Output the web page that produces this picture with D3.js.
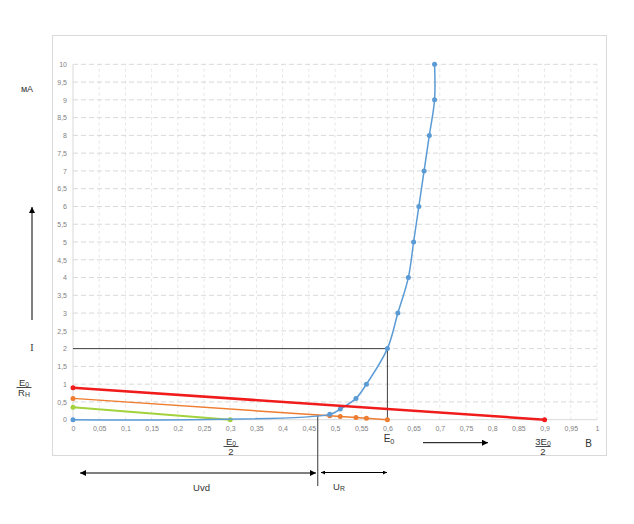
<!DOCTYPE html>
<html><head><meta charset="utf-8">
<script src="https://cdn.jsdelivr.net/npm/d3@7"></script>
<style>body{margin:0;background:#fff}svg{display:block}</style>
</head><body>
<svg id="c" width="634" height="524"></svg>
<script>
// Data
const xTicks = d3.range(0, 1.0001, 0.05).map(v => +v.toFixed(2));
const yTicks = d3.range(0, 10.0001, 0.5).map(v => +v.toFixed(1));
const diodeX = [0, 0.49, 0.51, 0.54, 0.56, 0.6, 0.62, 0.64, 0.65, 0.66, 0.67, 0.68, 0.69, 0.69];
const diodeY = [0, 0.15, 0.3, 0.6, 1, 2, 3, 4, 5, 6, 7, 8, 9, 10];
const loadOrangeX = [0, 0.49, 0.51, 0.54, 0.56, 0.6];
const loadOrangeY = [0.6, 0.11, 0.09, 0.06, 0.04, 0];
const loadRedX = [0, 0.9];
const loadRedY = [0.9, 0];
const loadGreenX = [0, 0.3];
const loadGreenY = [0.35, 0];
const opPoint = [0.6, 2];
const intersectX = 0.467, intersectY = 0.14;

const svg = d3.select("#c");
const x = d3.scaleLinear().domain([0, 1]).range([73, 597]);
const y = d3.scaleLinear().domain([0, 10]).range([419.7, 64.3]);
const fmt = v => String(v).replace('.', ',');

// chart frame
svg.append("rect").attr("x", 52.5).attr("y", 35.5).attr("width", 554).attr("height", 420)
  .attr("fill", "#fff").attr("stroke", "#d9d9d9");

// gridlines
svg.append("g").selectAll("line").data(xTicks).join("line")
  .attr("x1", d => x(d)).attr("x2", d => x(d)).attr("y1", y(0)).attr("y2", y(10))
  .attr("stroke", d => d === 0 ? "#d9d9d9" : "#e6e6e6")
  .attr("stroke-dasharray", d => d === 0 ? null : "3,3");
svg.append("g").selectAll("line").data(yTicks).join("line")
  .attr("x1", x(0)).attr("x2", x(1)).attr("y1", d => y(d)).attr("y2", d => y(d))
  .attr("stroke", "#d9d9d9")
  .attr("stroke-dasharray", d => d === 0 ? null : "5,3");

// axes tick labels
const xAxis = d3.axisBottom(x).tickValues(xTicks).tickFormat(fmt).tickSize(0).tickPadding(6);
const gx = svg.append("g").attr("transform", `translate(0,${y(0)})`).call(xAxis);
const yAxis = d3.axisLeft(y).tickValues(yTicks).tickFormat(fmt).tickSize(0).tickPadding(6);
const gy = svg.append("g").attr("transform", `translate(${x(0)},0)`).call(yAxis);
[gx, gy].forEach(g => {
  g.select(".domain").remove();
  g.selectAll("text").attr("fill", "#7f7f7f").attr("font-size", "7px")
    .attr("font-family", "Liberation Sans, Arial, sans-serif");
});

// guide lines
const guide = svg.append("g").attr("stroke", "#404040").attr("stroke-width", 1).attr("fill", "none");
guide.append("line").attr("x1", x(0)).attr("x2", x(opPoint[0])).attr("y1", y(opPoint[1])).attr("y2", y(opPoint[1]));
guide.append("line").attr("x1", x(opPoint[0])).attr("x2", x(opPoint[0])).attr("y1", y(opPoint[1])).attr("y2", y(0));
guide.append("line").attr("x1", x(intersectX)).attr("x2", x(intersectX)).attr("y1", y(intersectY)).attr("y2", 486)
  .attr("stroke", "#595959").attr("stroke-width", 1.2);

// series
function series(xs, ys, color, w, curve) {
  const pts = xs.map((v, i) => [v, ys[i]]);
  const line = d3.line().x(d => x(d[0])).y(d => y(d[1])).curve(curve || d3.curveLinear);
  svg.append("path").datum(pts).attr("d", line).attr("fill", "none")
    .attr("stroke", color).attr("stroke-width", w);
  svg.append("g").selectAll("circle").data(pts).join("circle")
    .attr("cx", d => x(d[0])).attr("cy", d => y(d[1])).attr("r", 2.5).attr("fill", color);
}
series(loadGreenX, loadGreenY, "#a2d23c", 2);
series(loadOrangeX, loadOrangeY, "#ed7d31", 1.5);
series(diodeX, diodeY, "#5b9bd5", 1.5, d3.curveCatmullRom.alpha(0.5));
series(loadRedX, loadRedY, "#f01c1c", 2.5);

// markers
const defs = svg.append("defs");
defs.append("marker").attr("id", "ah").attr("viewBox", "0 0 10 10").attr("refX", 10).attr("refY", 5)
  .attr("markerWidth", 10).attr("markerHeight", 6).attr("markerUnits", "userSpaceOnUse").attr("orient", "auto-start-reverse")
  .append("path").attr("d", "M0,0L10,5L0,10z").attr("fill", "#000");
defs.append("marker").attr("id", "ahs").attr("viewBox", "0 0 10 10").attr("refX", 10).attr("refY", 5)
  .attr("markerWidth", 5).attr("markerHeight", 4).attr("markerUnits", "userSpaceOnUse").attr("orient", "auto-start-reverse")
  .append("path").attr("d", "M0,0L10,5L0,10z").attr("fill", "#000");

const arr = svg.append("g").attr("stroke", "#000").attr("stroke-width", 1);
arr.append("line").attr("x1", 32).attr("y1", 320).attr("x2", 32).attr("y2", 207).attr("marker-end", "url(#ah)");
arr.append("line").attr("x1", 423).attr("y1", 442.7).attr("x2", 488).attr("y2", 442.7).attr("marker-end", "url(#ah)");
arr.append("line").attr("x1", 80).attr("y1", 473).attr("x2", 316).attr("y2", 473)
  .attr("marker-start", "url(#ah)").attr("marker-end", "url(#ah)");
arr.append("line").attr("x1", 321).attr("y1", 472.5).attr("x2", 387).attr("y2", 472.5)
  .attr("marker-start", "url(#ahs)").attr("marker-end", "url(#ahs)");

// text labels
const T = svg.append("g").attr("font-family", "Liberation Sans, Arial, sans-serif").attr("fill", "#333");
function sub(parent, main, s, x0, yb, size, anchor) {
  const t = parent.append("text").attr("x", x0).attr("y", yb).attr("font-size", size + "px")
    .attr("text-anchor", anchor || "middle").attr("fill", "#333");
  t.append("tspan").text(main);
  t.append("tspan").attr("font-size", (size * 0.72) + "px").attr("dy", 1.5).text(s);
  return t;
}
function frac(numMain, numSub, den, denSub, cx, yb, size) {
  sub(T, numMain, numSub, cx, yb, size);
  T.append("line").attr("x1", cx - 7.5).attr("x2", cx + 7.5).attr("y1", yb + 2).attr("y2", yb + 2)
    .attr("stroke", "#333").attr("stroke-width", 0.9);
  if (denSub) sub(T, den, denSub, cx, yb + 10, size);
  else T.append("text").attr("x", cx).attr("y", yb + 10).attr("font-size", size + "px")
    .attr("text-anchor", "middle").attr("fill", "#333").text(den);
}
T.append("text").attr("x", 27).attr("y", 92).attr("font-size", "9px").attr("text-anchor", "middle").text("мА");
T.append("text").attr("x", 32).attr("y", 351).attr("font-size", "10px").attr("text-anchor", "middle")
  .attr("font-family", "Liberation Serif, serif").text("I");
frac("E", "0", "R", "H", 24, 385.5, 9.5);
frac("E", "0", "2", null, 231, 444.5, 9.5);
frac("3E", "0", "2", null, 543, 444.5, 9.5);
sub(T, "E", "0", 389, 442, 10);
T.append("text").attr("x", 588.5).attr("y", 447).attr("font-size", "10px").attr("text-anchor", "middle").text("B");
T.append("text").attr("x", 201.5).attr("y", 491).attr("font-size", "9.5px").attr("text-anchor", "middle").text("Uvd");
sub(T, "U", "R", 339, 489.5, 9.5);
</script>
</body></html>
